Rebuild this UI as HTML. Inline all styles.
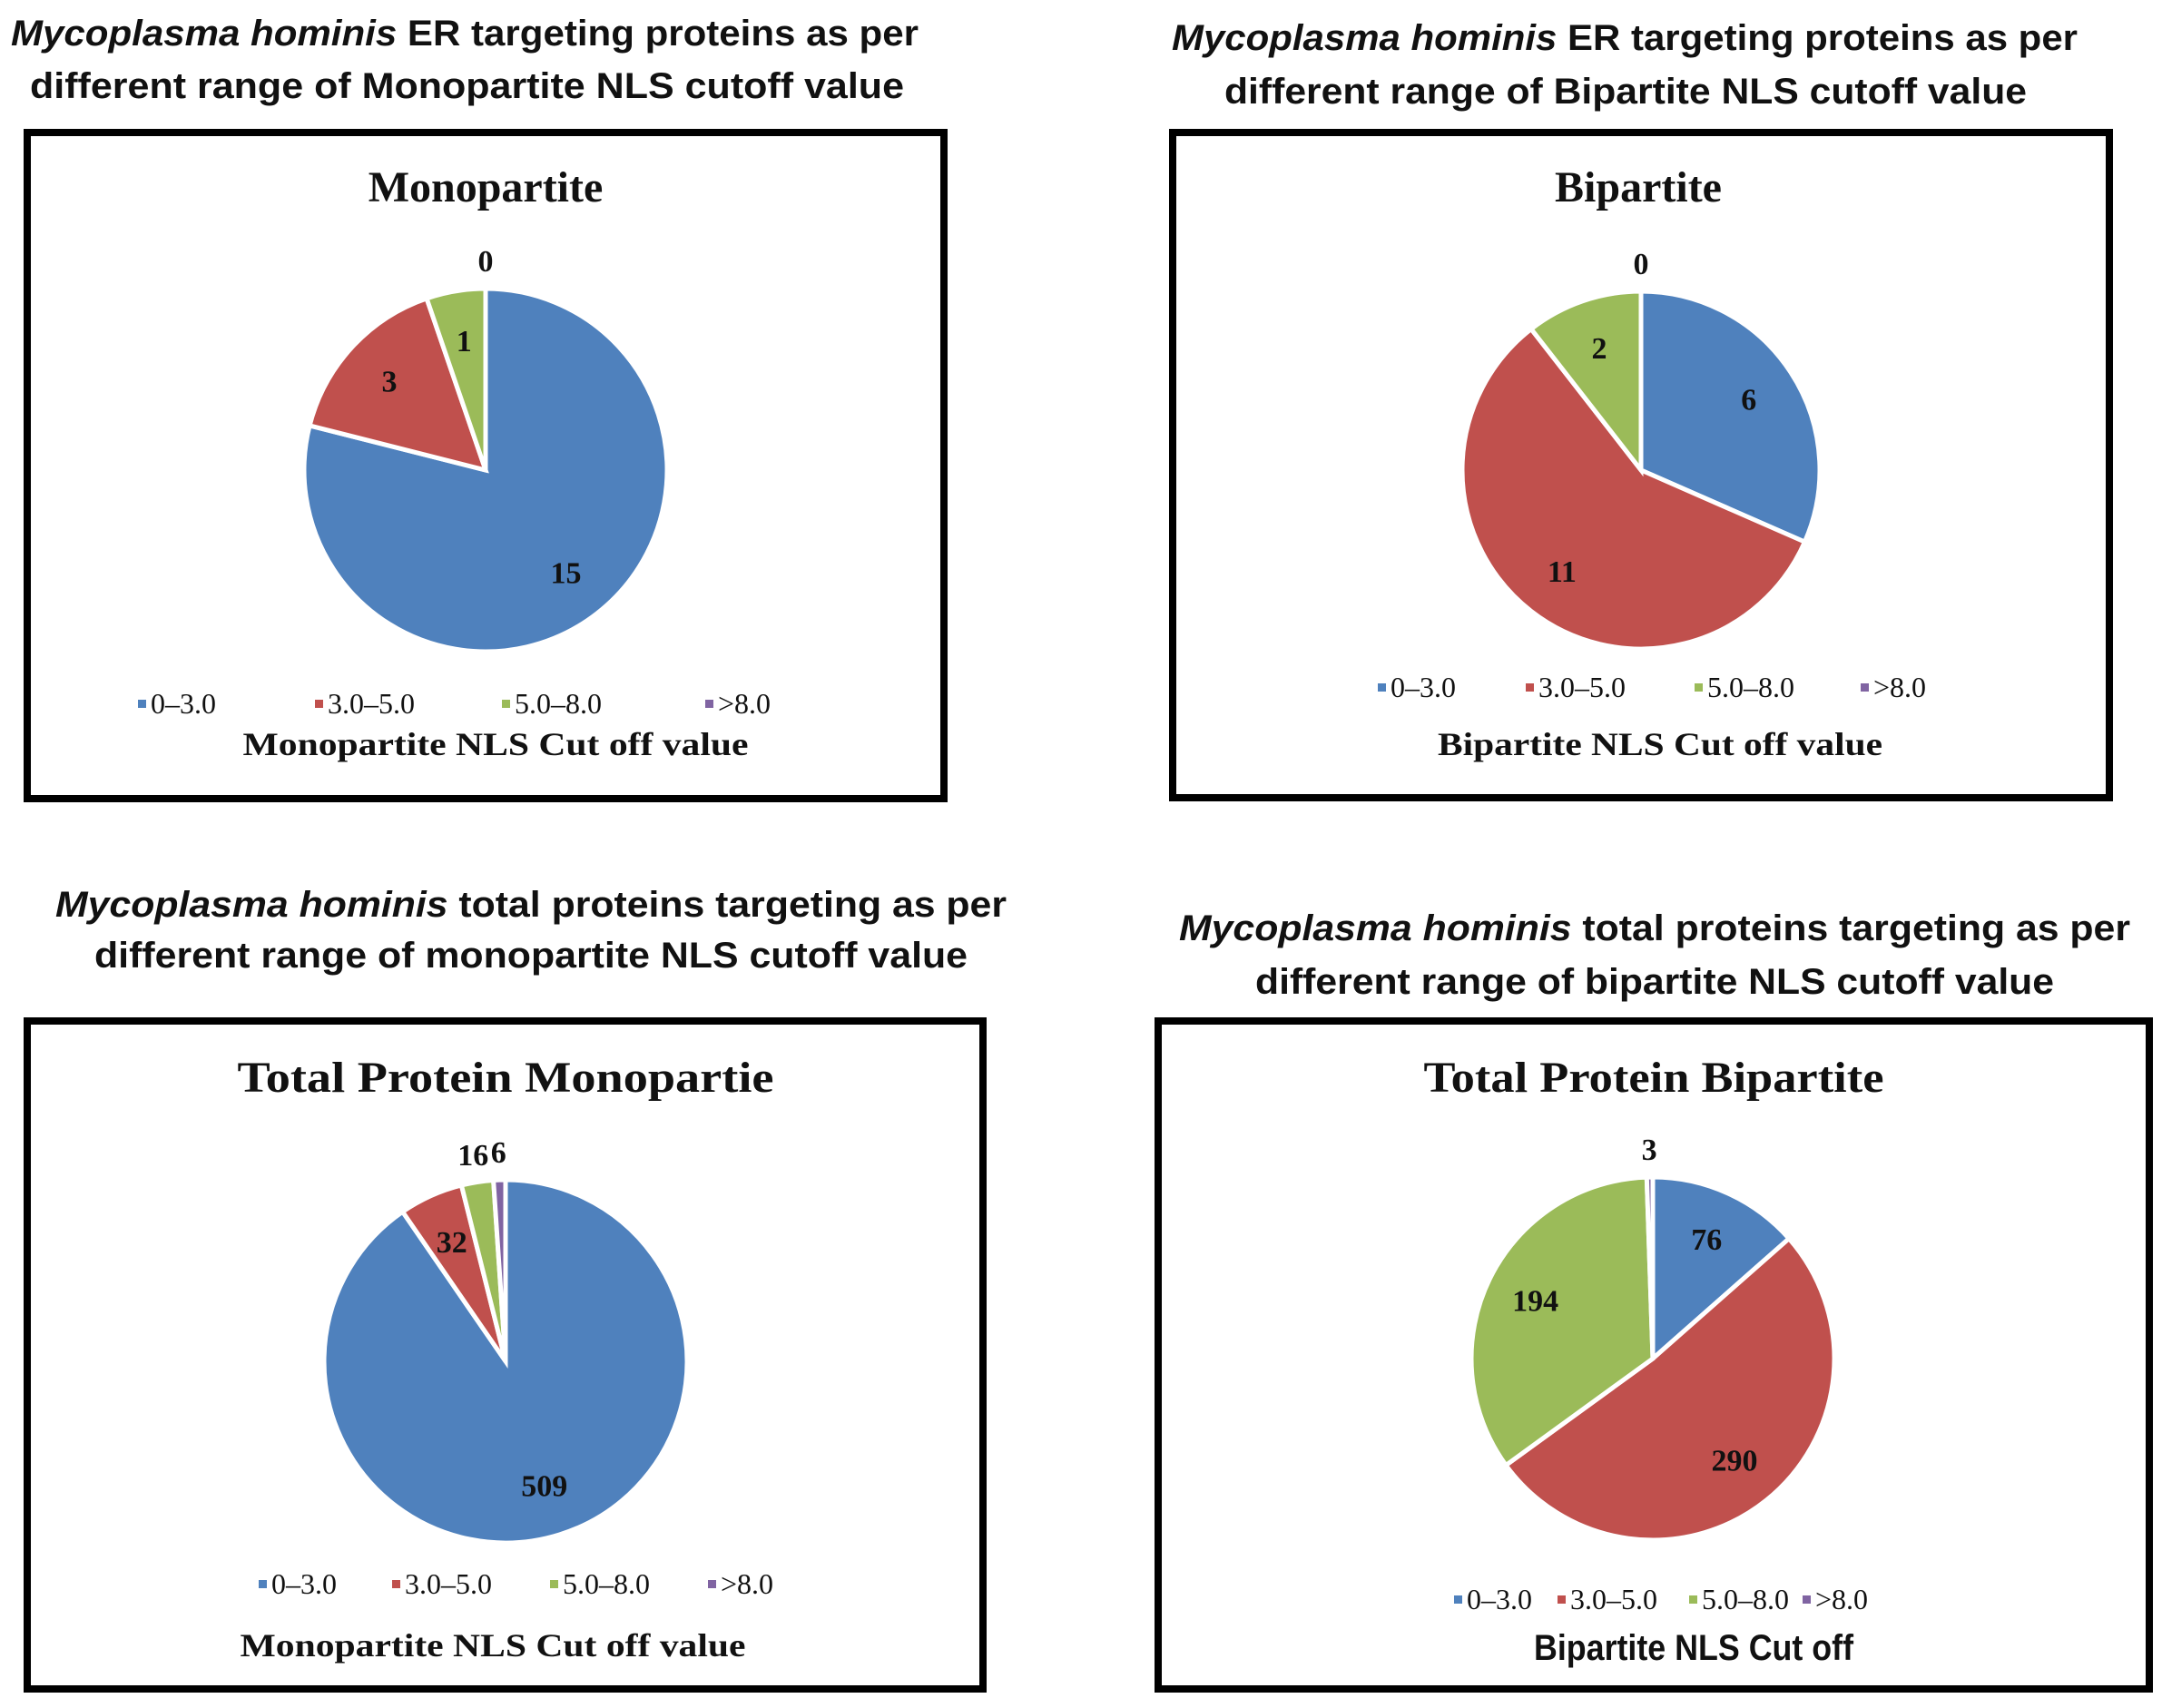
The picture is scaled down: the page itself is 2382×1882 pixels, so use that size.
<!DOCTYPE html>
<html><head><meta charset="utf-8"><style>
body{margin:0;background:#fff}
svg{display:block}
.ti{font-family:"Liberation Sans",sans-serif;font-weight:bold;font-size:40px;fill:#111}
.ct{font-family:"Liberation Serif",serif;font-weight:bold;font-size:48px;fill:#111}
.lg{font-family:"Liberation Serif",serif;font-size:32px;fill:#111}
.at{font-family:"Liberation Serif",serif;font-weight:bold;font-size:36px;fill:#111}
.dl{font-family:"Liberation Serif",serif;font-weight:bold;font-size:34px;fill:#111}
</style></head><body>
<svg id="s" width="2382" height="1882" xmlns="http://www.w3.org/2000/svg">
<g>
<text class="ti" x="12" y="50" textLength="1000" lengthAdjust="spacingAndGlyphs"><tspan font-style="italic">Mycoplasma hominis</tspan> ER targeting proteins as per</text>
<text class="ti" x="33" y="108" textLength="963" lengthAdjust="spacingAndGlyphs">different range of Monopartite NLS cutoff value</text>
<text class="ti" x="1291" y="55" textLength="998" lengthAdjust="spacingAndGlyphs"><tspan font-style="italic">Mycoplasma hominis</tspan> ER targeting proteins as per</text>
<text class="ti" x="1349" y="114" textLength="884" lengthAdjust="spacingAndGlyphs">different range of Bipartite NLS cutoff value</text>
<text class="ti" x="61" y="1010" textLength="1048" lengthAdjust="spacingAndGlyphs"><tspan font-style="italic">Mycoplasma hominis</tspan> total proteins targeting as per</text>
<text class="ti" x="104" y="1066" textLength="962" lengthAdjust="spacingAndGlyphs">different range of monopartite NLS cutoff value</text>
<text class="ti" x="1299" y="1036" textLength="1048" lengthAdjust="spacingAndGlyphs"><tspan font-style="italic">Mycoplasma hominis</tspan> total proteins targeting as per</text>
<text class="ti" x="1383" y="1095" textLength="880" lengthAdjust="spacingAndGlyphs">different range of bipartite NLS cutoff value</text>
</g>
<g>
<rect x="30" y="146" width="1010" height="734" fill="none" stroke="#000" stroke-width="8"/>
<rect x="1292" y="146" width="1032" height="733" fill="none" stroke="#000" stroke-width="8"/>
<rect x="30" y="1125" width="1053" height="736" fill="none" stroke="#000" stroke-width="8"/>
<rect x="1276" y="1125" width="1092" height="736" fill="none" stroke="#000" stroke-width="8"/>
</g>
<text class="ct" x="535" y="222" text-anchor="middle">Monopartite</text>
<text class="ct" x="1805" y="222" text-anchor="middle">Bipartite</text>
<text class="ct" x="557" y="1203" text-anchor="middle" textLength="591" lengthAdjust="spacingAndGlyphs">Total Protein  Monopartie</text>
<text class="ct" x="1822" y="1203" text-anchor="middle" textLength="507" lengthAdjust="spacingAndGlyphs">Total Protein Bipartite</text>
<text class="at" x="546" y="832" text-anchor="middle" textLength="557" lengthAdjust="spacingAndGlyphs">Monopartite NLS Cut off value</text>
<text class="at" x="1829" y="832" text-anchor="middle" textLength="490" lengthAdjust="spacingAndGlyphs">Bipartite NLS Cut off value</text>
<text class="at" x="543" y="1825" text-anchor="middle" textLength="557" lengthAdjust="spacingAndGlyphs">Monopartite NLS Cut off value</text>
<text class="ti" x="1866" y="1829" text-anchor="middle" font-size="36" textLength="352" lengthAdjust="spacingAndGlyphs">Bipartite NLS Cut off</text>
</svg>
<script>
const categories = ["0–3.0", "3.0–5.0", "5.0–8.0", ">8.0"];
const colors = ["#4F81BD", "#C0504D", "#9BBB59", "#8064A2"];
const monoER = [15, 3, 1, 0];
const biER = [6, 11, 2, 0];
const monoTotal = [509, 32, 16, 6];
const biTotal = [76, 290, 194, 3];

const charts = [
  {id:"chart1", values:monoER, cx:535, cy:518, r:200, legY:786, legX:[152,347,553,777]},
  {id:"chart2", values:biER, cx:1808, cy:518, r:197, legY:768, legX:[1518,1681,1867,2050]},
  {id:"chart3", values:monoTotal, cx:557, cy:1500, r:200, legY:1756, legX:[285,432,606,780]},
  {id:"chart4", values:biTotal, cx:1821, cy:1497, r:200, legY:1773, legX:[1602,1716,1861,1986]}
];
const NS = "http://www.w3.org/2000/svg";
const svg = document.getElementById("s");
function pt(c, a, rr){ return [c.cx + rr*Math.sin(a), c.cy - rr*Math.cos(a)]; }
charts.forEach(c => {
  const g = document.createElementNS(NS, "g");
  
  
  svg.appendChild(g);
  const total = c.values.reduce((a,b)=>a+b,0);
  let a0 = 0;
  c.values.forEach((v,i) => {
    const frac = v/total;
    const a1 = a0 + frac*2*Math.PI;
    if (v > 0) {
      const p0 = pt(c,a0,c.r), p1 = pt(c,a1,c.r);
      const large = (a1-a0) > Math.PI ? 1 : 0;
      const path = document.createElementNS(NS, "path");
      path.setAttribute("d", `M${c.cx},${c.cy} L${p0[0]},${p0[1]} A${c.r},${c.r} 0 ${large} 1 ${p1[0]},${p1[1]} Z`);
      path.setAttribute("fill", colors[i]);
      path.setAttribute("stroke", "#fff");
      path.setAttribute("stroke-width", "5");
      
      
      g.appendChild(path);
    }
    const mid = (a0+a1)/2;
    let lp;
    if (frac < 0.04) lp = pt(c, mid, c.r + 30); else lp = pt(c, mid, c.r*0.72);
    const t = document.createElementNS(NS, "text");
    t.setAttribute("class", "dl");
    t.setAttribute("x", lp[0]);
    t.setAttribute("y", lp[1] + 11);
    t.setAttribute("text-anchor", "middle");
    t.textContent = v;
    
    
    g.appendChild(t);
    a0 = a1;
  });
  categories.forEach((cat,i) => {
    const m = document.createElementNS(NS, "rect");
    m.setAttribute("x", c.legX[i]);
    m.setAttribute("y", c.legY - 15);
    m.setAttribute("width", 9);
    m.setAttribute("height", 9);
    m.setAttribute("fill", colors[i]);
    
    
    svg.appendChild(m);
    const t = document.createElementNS(NS, "text");
    t.setAttribute("class", "lg");
    t.setAttribute("x", c.legX[i] + 14);
    t.setAttribute("y", c.legY);
    t.textContent = cat;
    
    
    svg.appendChild(t);
  });
});
</script>
</body></html>
